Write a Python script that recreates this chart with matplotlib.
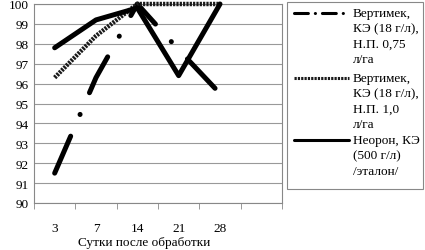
import matplotlib
matplotlib.use("Agg")
import matplotlib.pyplot as plt
from matplotlib.lines import Line2D
from matplotlib.patches import Rectangle
import numpy as np

plt.rcParams['font.family'] = ['Liberation Serif', 'DejaVu Serif']
plt.rcParams['lines.scale_dashes'] = False

# data
days = ["3", "7", "14", "21", "28", ""]
vert_075 = [91.5, 96.3, 100.0, 97.7, 95.5]
vert_100 = [96.3, 98.4, 100.0, 100.0, 100.0]
neoron = [97.8, 99.2, 99.8, 96.4, 100.0]
labels = [
    ["Вертимек,", "КЭ (18 г/л),", "Н.П. 0,75", "л/га"],
    ["Вертимек,", "КЭ (18 г/л),", "Н.П. 1,0", "л/га"],
    ["Неорон, КЭ", "(500 г/л)", "/эталон/"],
]

W, H = 425, 251
fig = plt.figure(figsize=(W / 100, H / 100), dpi=100)
ax = fig.add_axes([34 / W, 1 - 204 / H, (282 - 34) / W, (204 - 5) / H])

x = np.arange(len(vert_075))
styles = [
    dict(color='black', lw=3.6, dashes=(29, 17, 0.1, 17), dash_capstyle='round'),
    dict(color='#1a1a1a', lw=3.2, dashes=(1.6, 0.8)),
    dict(color='black', lw=3.6, solid_capstyle='round'),
]
for ys, st in zip([vert_075, vert_100, neoron], styles):
    ax.plot(x, ys, clip_on=False, zorder=3, **st)

ax.set_xlim(-0.5, len(days) - 0.5)
ax.set_ylim(90, 100)
ax.set_yticks(np.arange(90, 101, 1))
ax.yaxis.grid(True, color='#999999', lw=0.8)
ax.set_axisbelow(True)
ax.tick_params(axis='y', length=0, pad=4, labelsize=9.5)

ax.set_xticks(np.arange(len(days)))
ax.set_xticklabels(days)
ax.set_xticks(np.arange(-0.5, len(days), 1), minor=True)
ax.tick_params(axis='x', which='major', length=0, pad=14, labelsize=9.5)
ax.tick_params(axis='x', which='minor', length=4, color='#888888', direction='out')
for s in ax.spines.values():
    s.set_color('#888888')
    s.set_linewidth(0.8)
fig.text(144 / W, 1 - 243 / H, "Сутки после обработки", fontsize=9.5,
         ha='center', va='center')

# legend box, drawn by hand so the handles sit on the first text line
fig.patches.append(Rectangle((287 / W, 1 - 190 / H), (423 - 287) / W, (190 - 3) / H,
                             transform=fig.transFigure, fill=False,
                             edgecolor='#888888', lw=0.8))
tops = [14, 79, 141]
for st, lab, top in zip(styles, labels, tops):
    hy = 1 - top / H
    hst = dict(st, lw=2.2)
    if 'dash_capstyle' in st:
        hst['dashes'] = (10, 5, 0.1, 5)
    fig.lines.append(Line2D([294 / W, 349 / W], [hy, hy], transform=fig.transFigure, **hst))
    for i, line in enumerate(lab):
        fig.text(353 / W, 1 - (top + i * 15.3) / H, line, fontsize=9.5, va='center')

fig.savefig("out.png", dpi=100)
